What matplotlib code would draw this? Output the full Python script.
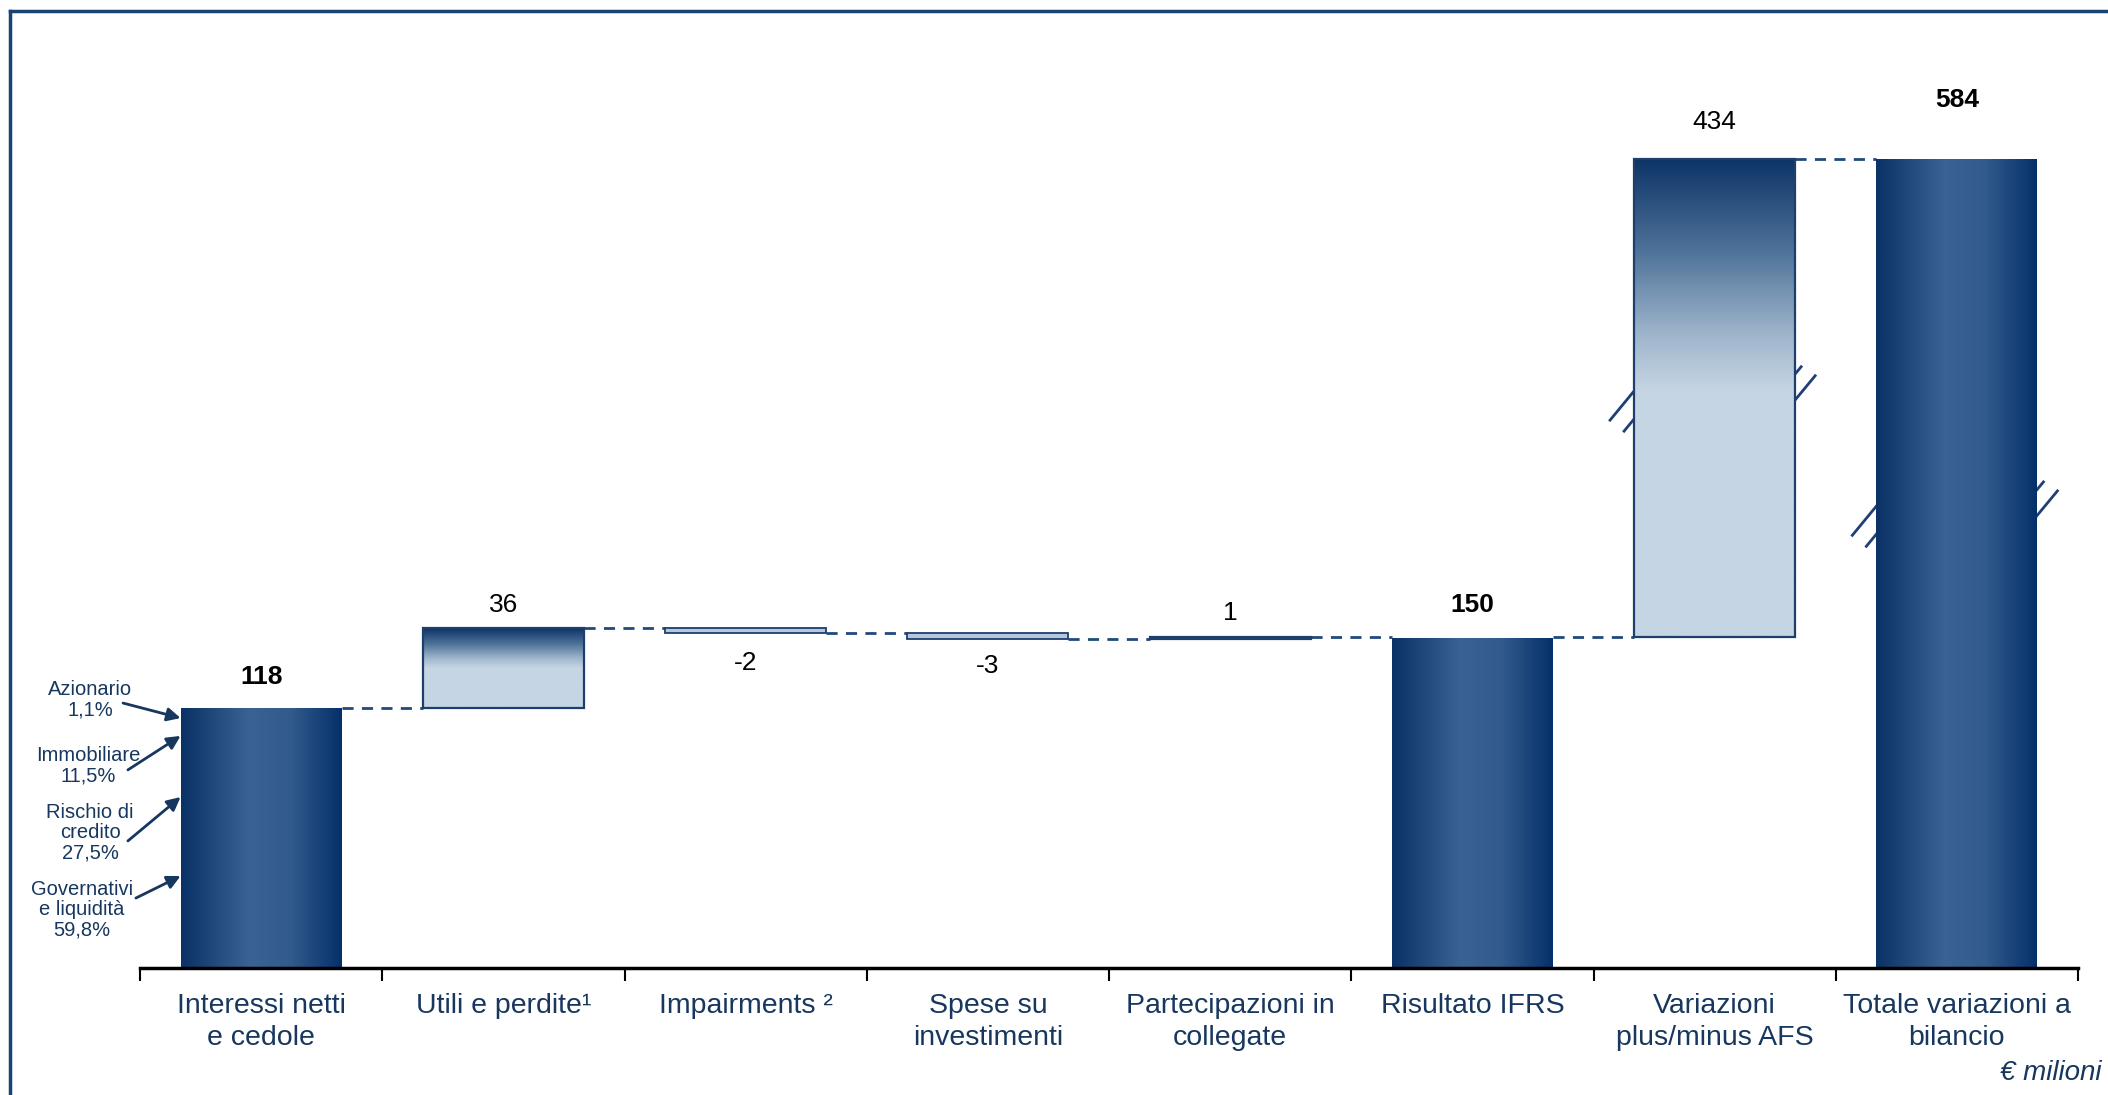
import numpy as np
import matplotlib
matplotlib.use("Agg")
import matplotlib.pyplot as plt
from matplotlib.colors import LinearSegmentedColormap
from matplotlib.lines import Line2D

plt.rcParams['font.family'] = ['Liberation Sans', 'DejaVu Sans']

# data
categories = ["Interessi netti\ne cedole", "Utili e perdite\u00b9", "Impairments \u00b2",
              "Spese su\ninvestimenti", "Partecipazioni in\ncollegate", "Risultato IFRS",
              "Variazioni\nplus/minus AFS", "Totale variazioni a\nbilancio"]
values = [118, 36, -2, -3, 1, 150, 434, 584]
kinds = ["total", "delta", "delta", "delta", "delta", "total", "delta", "total"]
value_labels = ["118", "36", "-2", "-3", "1", "150", "434", "584"]

alloc_labels = ["Azionario\n1,1%", "Immobiliare\n11,5%", "Rischio di\ncredito\n27,5%",
                "Governativi\ne liquidit\u00e0\n59,8%"]

# axis break: values above BREAK are drawn squeezed
BREAK = 160
SQUEEZE = 0.488


def fwd(v):
    v = np.asarray(v, dtype=float)
    return np.where(v <= BREAK, v, BREAK + (v - BREAK) * SQUEEZE)


def inv(d):
    d = np.asarray(d, dtype=float)
    return np.where(d <= BREAK, d, BREAK + (d - BREAK) / SQUEEZE)


NAVY = '#17375E'
EDGE = '#1c3f6c'
DASH = '#1f4a7a'

h_cmap = LinearSegmentedColormap.from_list(
    'h', [(0, '#0b3266'), (0.42, '#3a6292'), (0.68, '#325a8b'), (1, '#04306a')])
v_cmap = LinearSegmentedColormap.from_list(
    'v', [(0, '#c5d5e4'), (0.5, '#c5d5e4'), (0.62, '#a0b6cd'),
          (0.8, '#4f7399'), (1, '#0c3467')])

fig = plt.figure(figsize=(21.08, 10.95), dpi=100)
ax = fig.add_axes([140 / 2108, 127 / 1095, (2078 - 140) / 2108, (968 - 60) / 1095])
ax.set_yscale('function', functions=(fwd, inv))

n = len(values)
x = np.arange(n)
width = 0.665

bottoms, heights, levels = [], [], []
running = 0
for v, k in zip(values, kinds):
    if k == "total":
        bottoms.append(0)
        heights.append(v)
        running = v
    else:
        bottoms.append(running if v > 0 else running + v)
        heights.append(abs(v))
        running += v
    levels.append(running)

for i in range(n):
    if kinds[i] == "total":
        bar = ax.bar(x[i], heights[i], bottom=bottoms[i], width=width,
                     color='none', edgecolor='none', zorder=2)[0]
        grad = np.linspace(0, 1, 256).reshape(1, -1)
        im = ax.imshow(grad, cmap=h_cmap, aspect='auto', origin='lower',
                       extent=(x[i] - width / 2, x[i] + width / 2,
                               bottoms[i], bottoms[i] + heights[i]), zorder=2)
        im.set_clip_path(bar)
    elif values[i] > 0:
        bar = ax.bar(x[i], heights[i], bottom=bottoms[i], width=width,
                     color='none', edgecolor=EDGE, linewidth=1.6, zorder=3)[0]
        grad = np.linspace(0, 1, 256).reshape(-1, 1)
        im = ax.imshow(grad, cmap=v_cmap, aspect='auto', origin='lower',
                       extent=(x[i] - width / 2, x[i] + width / 2,
                               bottoms[i], bottoms[i] + heights[i]), zorder=2)
        im.set_clip_path(bar)
        # white backing so break marks stay hidden behind the bar
        ax.bar(x[i], heights[i], bottom=bottoms[i], width=width,
               color='white', edgecolor='none', zorder=1.5)
    else:
        ax.bar(x[i], heights[i], bottom=bottoms[i], width=width,
               color='#b4c7dc', edgecolor=EDGE, linewidth=1.3, zorder=3)

# connectors
for i in range(n - 1):
    ax.plot([x[i] + width / 2, x[i + 1] - width / 2], [levels[i], levels[i]],
            color=DASH, lw=2, ls=(0, (4, 3)), zorder=1)

# value labels
label_offsets = [22, 17, -22, -19, 17, 23, 26, 42]
for i in range(n):
    top = bottoms[i] + heights[i]
    y_anchor = top if label_offsets[i] > 0 else bottoms[i]
    ax.annotate(value_labels[i], (x[i], y_anchor), xytext=(0, label_offsets[i]),
                textcoords='offset points', ha='center', va='center', fontsize=19,
                fontweight='bold' if kinds[i] == "total" else 'normal',
                color='black', zorder=5)

# allocation notes on first bar
alloc_text_pos = [(-0.706, 121.5), (-0.715, 91.6), (-0.706, 61.2), (-0.74, 26.3)]
alloc_tail = [(-0.570, 120.1), (-0.550, 89.8), (-0.550, 57.6), (-0.517, 31.7)]
alloc_head = [113.3, 105.2, 77.5, 41.7]
for lab, tp, tail, hy in zip(alloc_labels, alloc_text_pos, alloc_tail, alloc_head):
    ax.text(tp[0], tp[1], lab, ha='center', va='center', fontsize=14.5,
            color=NAVY, linespacing=1.1, clip_on=False)
    ax.annotate("", xy=(x[0] - width / 2, hy), xytext=tail,
                arrowprops=dict(arrowstyle='-|>', color=NAVY, lw=2,
                                mutation_scale=20, shrinkA=0, shrinkB=0),
                annotation_clip=False)

# axes styling
ax.set_xlim(-0.5, n - 0.5)
ax.set_ylim(0, 675.6)
for s in ['top', 'right', 'left']:
    ax.spines[s].set_visible(False)
ax.spines['bottom'].set_linewidth(2.5)
ax.spines['bottom'].set_color('black')
ax.set_yticks([])
ax.set_xticks(np.arange(-0.5, n, 1))
ax.set_xticklabels([])
ax.set_xticks(x, minor=True)
ax.set_xticklabels(categories, minor=True, fontsize=20.5, color=NAVY, linespacing=1.3)
ax.tick_params(axis='x', which='major', length=9, width=1.5, color='black', direction='out')
ax.tick_params(axis='x', which='minor', length=0, pad=18)
ax.patch.set_visible(False)

# break marks on the squeezed bars
break_bars = [6, 7]
break_left_y = [368, 261]
break_right_y = [360, 253]
fig.canvas.draw()
to_axes = ax.transAxes.inverted()


def slash(p0, p1):
    pts = to_axes.transform([p0, p1])
    ax.add_line(Line2D(pts[:, 0], pts[:, 1], transform=ax.transAxes,
                       color='#1f3f75', lw=2, zorder=1, clip_on=False))


for b, yl, yr in zip(break_bars, break_left_y, break_right_y):
    lx, ly = ax.transData.transform((x[b] - width / 2, yl))
    rx, ry = ax.transData.transform((x[b] + width / 2, yr))
    slash((lx - 24, ly - 29), (lx + 4, ly + 5))
    slash((lx - 10, ly - 40), (lx + 4, ly - 23))
    slash((rx - 4, ry - 5), (rx + 20, ry + 24))
    slash((rx - 4, ry + 21), (rx + 6, ry + 33))

# frame lines of the slide
fig.add_artist(Line2D([10 / 2108, 1], [1 - 11 / 1095] * 2, transform=fig.transFigure,
                      color='#184373', lw=2.5))
fig.add_artist(Line2D([10 / 2108] * 2, [0, 1 - 11 / 1095], transform=fig.transFigure,
                      color='#184373', lw=2.5))

fig.text(2102 / 2108, 1 - 1073 / 1095, "\u20ac milioni", ha='right', va='center',
         fontsize=20, style='italic', color=NAVY)

fig.savefig("out.png", dpi=100, facecolor='white')
